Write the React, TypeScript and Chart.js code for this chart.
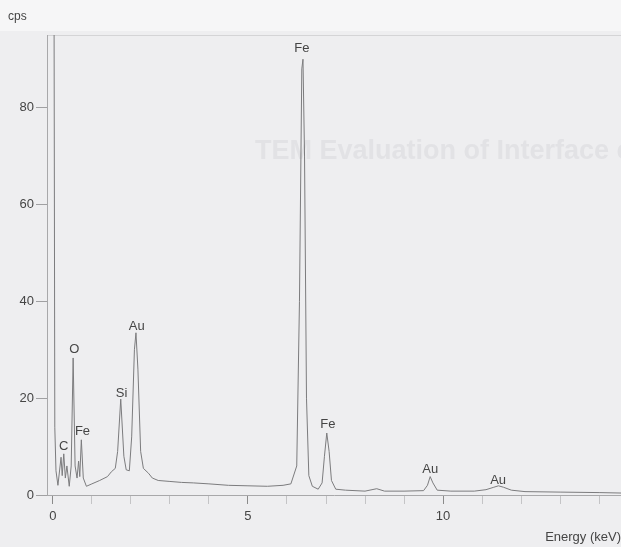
import React, { useEffect, useRef } from "react";
import { Chart, registerables } from "chart.js";

Chart.register(...registerables);

// EDS spectrum trace (energy in keV, intensity in cps)
const spectrumEnergy = [
  -0.02, 0.02, 0.05, 0.08, 0.13, 0.21, 0.24, 0.28, 0.32, 0.36, 0.42, 0.47, 0.52, 0.57,
  0.62, 0.66, 0.69, 0.73, 0.78, 0.86, 1.0, 1.2, 1.4, 1.5, 1.6, 1.66, 1.74, 1.82, 1.88,
  1.96, 2.02, 2.09, 2.13, 2.18, 2.25, 2.32, 2.45, 2.55, 2.7, 3.0, 3.3, 3.6, 4.0, 4.5,
  5.0, 5.5, 5.9, 6.1, 6.25, 6.32, 6.38, 6.41, 6.45, 6.5, 6.56, 6.65, 6.8, 6.9, 6.96,
  7.02, 7.08, 7.14, 7.25, 7.5, 8.0, 8.3, 8.5, 9.0, 9.5, 9.6, 9.67, 9.74, 9.85, 10.2,
  10.8, 11.1, 11.3, 11.42, 11.55, 11.75, 12.1, 13.0, 14.0, 14.6,
];
const spectrumCps = [
  150, 150, 14, 5, 2.0, 7.8, 4.0, 8.5, 3.5, 6.0, 1.8, 6.0, 28.3, 6.0,
  3.5, 7.0, 3.8, 11.4, 3.5, 1.8, 2.3, 3.0, 3.8, 4.8, 5.5, 9.0, 19.8, 8.0, 5.2,
  5.0, 12.0, 30.0, 33.5, 26.0, 9.0, 5.5, 4.5, 3.5, 3.0, 2.8, 2.6, 2.5, 2.3, 2.0,
  1.9, 1.8, 2.0, 2.3, 6.0, 40.0, 88.0, 90.0, 70.0, 20.0, 4.0, 1.8, 1.2, 2.5, 8.0,
  12.8, 9.0, 3.0, 1.2, 1.0, 0.8, 1.3, 0.8, 0.8, 0.9, 2.0, 3.8, 2.5, 1.0, 0.8,
  0.8, 1.1, 1.6, 1.9, 1.6, 1.0, 0.7, 0.6, 0.5, 0.4,
];

// Peak identification labels (element, energy keV, cps at label bottom)
const peakElements = ["C", "O", "Fe", "Si", "Au", "Fe", "Fe", "Au", "Au"];
const peakLabelEnergy = [0.28, 0.55, 0.76, 1.76, 2.15, 6.38, 7.05, 9.67, 11.41];
const peakLabelCps = [9.1, 29.1, 12.2, 20.0, 33.9, 91.3, 13.6, 4.3, 2.1];

// Axes
const xLabeledTicks = [0, 5, 10];
const xMinorTicks = [0, 1, 2, 3, 4, 5, 6, 7, 8, 9, 10, 11, 12, 13, 14];
const yTicks = [0, 20, 40, 60, 80];
const xMin = -0.15;
const xMax = 14.56;
const yMin = 0;
const yMax = 95;
const xTitle = "Energy (keV)";
const yUnit = "cps";
const ghostHeading = "TEM Evaluation of Interface c";

const FONT = "'Liberation Sans', Arial, sans-serif";
const TEXT = "#454545";

export default function App() {
  const canvasRef = useRef<HTMLCanvasElement | null>(null);

  useEffect(() => {
    const canvas = canvasRef.current;
    if (!canvas) return;

    const bgPlugin = {
      id: "scanBackground",
      beforeDraw(chart: any) {
        const { ctx, width, height, chartArea } = chart;
        ctx.save();
        ctx.fillStyle = "#eeeef0";
        ctx.fillRect(0, 0, width, height);
        ctx.fillStyle = "#f6f6f7";
        ctx.fillRect(0, 0, width, chartArea.top - 4);
        // faint bleed-through heading from the scanned page
        ctx.font = `bold 27px ${FONT}`;
        ctx.fillStyle = "#e2e2e5";
        ctx.textAlign = "left";
        ctx.textBaseline = "middle";
        ctx.fillText(ghostHeading, 255, 152);
        // top border line of the plot frame
        ctx.strokeStyle = "#d4d4d6";
        ctx.lineWidth = 1;
        ctx.beginPath();
        ctx.moveTo(chartArea.left, chartArea.top + 0.5);
        ctx.lineTo(chartArea.right, chartArea.top + 0.5);
        ctx.stroke();
        ctx.restore();
      },
    };

    const labelPlugin = {
      id: "peakLabels",
      afterDatasetsDraw(chart: any) {
        const { ctx, scales, chartArea } = chart;
        const xs = scales.x;
        const ys = scales.y;
        ctx.save();
        ctx.font = `13px ${FONT}`;
        ctx.fillStyle = TEXT;
        ctx.textAlign = "center";
        ctx.textBaseline = "bottom";
        peakElements.forEach((el, i) => {
          const px = xs.getPixelForValue(peakLabelEnergy[i]);
          const py = ys.getPixelForValue(peakLabelCps[i]);
          ctx.fillText(el, px, py + 2);
        });
        ctx.textAlign = "left";
        ctx.textBaseline = "middle";
        ctx.font = `12px ${FONT}`;
        ctx.fillText(yUnit, 8, chartArea.top - 18);
        ctx.restore();
      },
    };

    const chart = new Chart(canvas, {
      type: "scatter",
      data: {
        datasets: [
          {
            label: "EDS",
            data: spectrumEnergy.map((e, i) => ({ x: e, y: spectrumCps[i] })),
            showLine: true,
            borderColor: "#7c7c7e",
            borderWidth: 1,
            pointRadius: 0,
            tension: 0,
          },
        ],
      },
      options: {
        animation: false,
        responsive: false,
        layout: { padding: { top: 35, right: 0, left: 0, bottom: 0 } },
        plugins: {
          legend: { display: false },
          tooltip: { enabled: false },
          title: { display: false },
        },
        scales: {
          x: {
            type: "linear",
            min: xMin,
            max: xMax,
            afterFit(scale: any) {
              scale.height = 52;
            },
            afterBuildTicks(scale: any) {
              scale.ticks = xMinorTicks.map((v) => ({ value: v }));
            },
            ticks: {
              autoSkip: false,
              maxRotation: 0,
              padding: 5,
              color: TEXT,
              font: { family: FONT, size: 13 },
              callback: (v: any) => (xLabeledTicks.includes(Number(v)) ? String(v) : ""),
            },
            grid: {
              drawOnChartArea: false,
              drawTicks: true,
              tickLength: 9,
              color: (ctx: any) =>
                ctx.tick && xLabeledTicks.includes(ctx.tick.value) ? "#8a8a8a" : "#c4c4c6",
            },
            border: { display: true, color: "#a8a8aa", width: 1 },
            title: {
              display: true,
              text: xTitle,
              align: "end",
              color: TEXT,
              font: { family: FONT, size: 13 },
              padding: { top: 0, bottom: 2 },
            },
          },
          y: {
            type: "linear",
            min: yMin,
            max: yMax,
            afterFit(scale: any) {
              scale.width = 47;
            },
            afterBuildTicks(scale: any) {
              scale.ticks = yTicks.map((v) => ({ value: v }));
            },
            ticks: {
              padding: 2,
              color: TEXT,
              font: { family: FONT, size: 13 },
              callback: (v: any) => String(v),
            },
            grid: {
              drawOnChartArea: false,
              drawTicks: true,
              tickLength: 11,
              color: "#a0a0a2",
            },
            border: { display: true, color: "#a8a8aa", width: 1 },
          },
        },
      },
      plugins: [bgPlugin, labelPlugin],
    } as any);

    return () => {
      chart.destroy();
    };
  }, []);

  return (
    <div style={{ position: "absolute", left: 0, top: 0, width: 621, height: 547 }}>
      <canvas ref={canvasRef} width={621} height={547} style={{ display: "block" }} />
    </div>
  );
}
